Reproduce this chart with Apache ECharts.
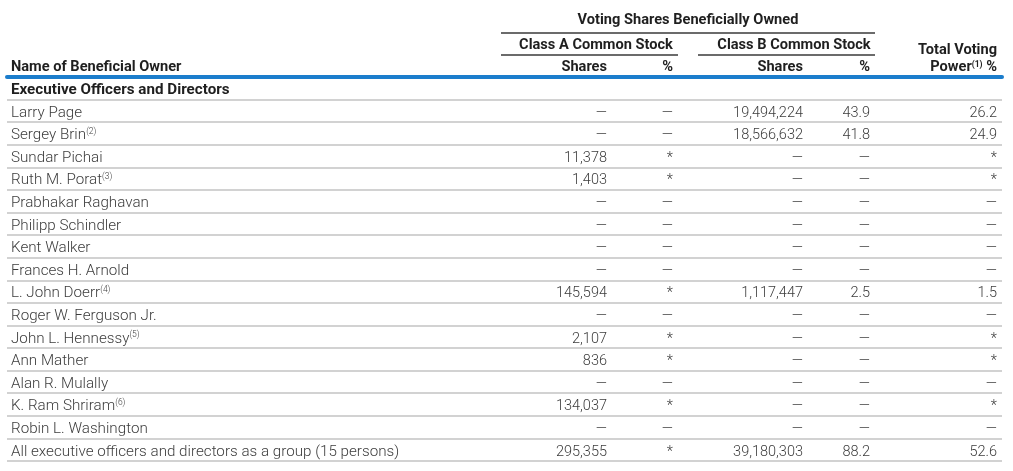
<!DOCTYPE html>
<html>
<head>
<meta charset="utf-8">
<script src="https://cdn.jsdelivr.net/npm/echarts@6/dist/echarts.min.js"></script>
<style>
html,body{margin:0;padding:0;background:#fff;}
#chart{width:1013px;height:471px;}
</style>
</head>
<body>
<div id="chart"></div>
<script>
// ---- Data ----
const sectionTitle = 'Executive Officers and Directors';
const owners = ['Larry Page','Sergey Brin','Sundar Pichai','Ruth M. Porat','Prabhakar Raghavan','Philipp Schindler','Kent Walker','Frances H. Arnold','L. John Doerr','Roger W. Ferguson Jr.','John L. Hennessy','Ann Mather','Alan R. Mulally','K. Ram Shriram','Robin L. Washington','All executive officers and directors as a group (15 persons)'];
const footnotes = ['','(2)','','(3)','','','','','(4)','','(5)','','','(6)','',''];
// null = "—", '*' = less than 1%
const classAShares = [null,null,11378,1403,null,null,null,null,145594,null,2107,836,null,134037,null,295355];
const classAPct    = [null,null,'*','*',null,null,null,null,'*',null,'*','*',null,'*',null,'*'];
const classBShares = [19494224,18566632,null,null,null,null,null,null,1117447,null,null,null,null,null,null,39180303];
const classBPct    = [43.9,41.8,null,null,null,null,null,null,2.5,null,null,null,null,null,null,88.2];
const totalVoting  = [26.2,24.9,'*','*',null,null,null,null,1.5,null,'*','*',null,'*',null,52.6];
const headerTop = 'Voting Shares Beneficially Owned';
const headerClassA = 'Class A Common Stock';
const headerClassB = 'Class B Common Stock';
const headerName = 'Name of Beneficial Owner';
const headerShares = 'Shares';
const headerPct = '%';
const headerTotal1 = 'Total Voting';
const headerTotal2 = 'Power';
const headerTotalNote = '(1)';

// ---- Rendering ----
const rowLabels = [sectionTitle].concat(owners);
const BODY_FONT = '300 14.5px Roboto';
const BOLD_FONT = 'bold 14.6px Roboto';
const TEXT = '#3c3c3c';
const HEAD = '#1f1f1f';

function fmtShares(v){ return v === null ? '—' : (typeof v === 'number' ? v.toLocaleString('en-US') : v); }
function fmtPct(v){ return v === null ? '—' : (typeof v === 'number' ? v.toFixed(1) : v); }

const columns = [
  {values: classAShares, fmt: fmtShares, x: 607},
  {values: classAPct,    fmt: fmtPct,    x: 673},
  {values: classBShares, fmt: fmtShares, x: 803},
  {values: classBPct,    fmt: fmtPct,    x: 870},
  {values: totalVoting,  fmt: fmtPct,    x: 997}
];

const series = columns.map(col => ({
  type: 'custom',
  clip: false,
  encode: {x: 0, y: 1},
  data: col.values.map((v, i) => [col.x, i + 1]),
  renderItem: (params, api) => {
    const p = api.coord([api.value(0), api.value(1)]);
    return {
      type: 'text',
      x: p[0], y: p[1] + 2.2,
      style: {
        text: col.fmt(col.values[params.dataIndex]),
        align: 'right', verticalAlign: 'middle',
        font: BODY_FONT, fill: TEXT
      }
    };
  }
}));

function hText(text, x, y, align){
  return {type:'text', x:x, y:y, silent:true,
    style:{text:text, align:align, verticalAlign:'middle', font:BOLD_FONT, fill:HEAD}};
}
function hLine(x1, x2, y){
  return {type:'line', silent:true, shape:{x1:x1,y1:y,x2:x2,y2:y}, style:{stroke:'#3a3a3a', lineWidth:1.5}};
}

const chart = echarts.init(document.getElementById('chart'), null, {renderer:'canvas'});
chart.setOption({
  animation: false,
  backgroundColor: '#ffffff',
  grid: {left: 7, right: 11, top: 77, bottom: 10},
  xAxis: {
    type: 'value', min: 7, max: 1002, position: 'top',
    axisLine: {show: true, onZero: false, lineStyle: {color: '#1b7dcc', width: 4}},
    axisTick: {show: false}, axisLabel: {show: false}, splitLine: {show: false}
  },
  yAxis: {
    type: 'category', inverse: true, data: rowLabels,
    axisLine: {show: false}, axisTick: {show: false},
    splitLine: {show: true, interval: 0, lineStyle: {color: '#c3c3c3', width: 1.5}},
    axisLabel: {
      inside: true, margin: 4, align: 'left', interval: 0,
      fontFamily: 'Roboto', fontSize: 15, color: TEXT,
      formatter: (v, i) => {
        if (i === 0) return '{h|' + v + '}';
        const note = footnotes[i - 1];
        return '{n|' + v + '}' + (note ? '{s|' + note + '}' : '');
      },
      rich: {
        h: {fontFamily: 'Roboto', fontSize: 15.2, fontWeight: 'bold', color: HEAD, lineHeight: 18, padding: [4, 0, 0, 0]},
        n: {fontFamily: 'Roboto', fontSize: 15.2, fontWeight: 300, color: TEXT, lineHeight: 18, padding: [4, 0, 0, 0]},
        s: {fontFamily: 'Roboto', fontSize: 8.5, fontWeight: 300, color: TEXT, verticalAlign: 'top', lineHeight: 13, padding: [2.5, 0, 0, 0]}
      }
    }
  },
  graphic: [
    hText(headerTop, 688, 20, 'center'),
    hLine(501, 875, 33),
    hText(headerClassA, 596, 45, 'center'),
    hText(headerClassB, 794, 45, 'center'),
    hLine(501, 678, 55),
    hLine(698, 875, 55),
    hText(headerName, 11, 67.5, 'left'),
    hText(headerShares, 607, 67.5, 'right'),
    hText(headerPct, 673, 67.5, 'right'),
    hText(headerShares, 803, 67.5, 'right'),
    hText(headerPct, 870, 67.5, 'right'),
    hText(headerTotal1, 997, 50, 'right'),
    {type:'text', x:997, y:67.5, silent:true,
     style:{text:'{p|' + headerTotal2 + '}{s|' + headerTotalNote + '}{p| ' + headerPct + '}', align:'right', verticalAlign:'middle',
       rich:{p:{font:BOLD_FONT, fill:HEAD, lineHeight:18}, s:{fontFamily:'Roboto', fontWeight:'bold', fontSize:8.5, fill:HEAD, verticalAlign:'top', lineHeight:13, padding:[1.5,0,0,0]}}}}
  ],
  series: series
});
</script>
</body>
</html>
